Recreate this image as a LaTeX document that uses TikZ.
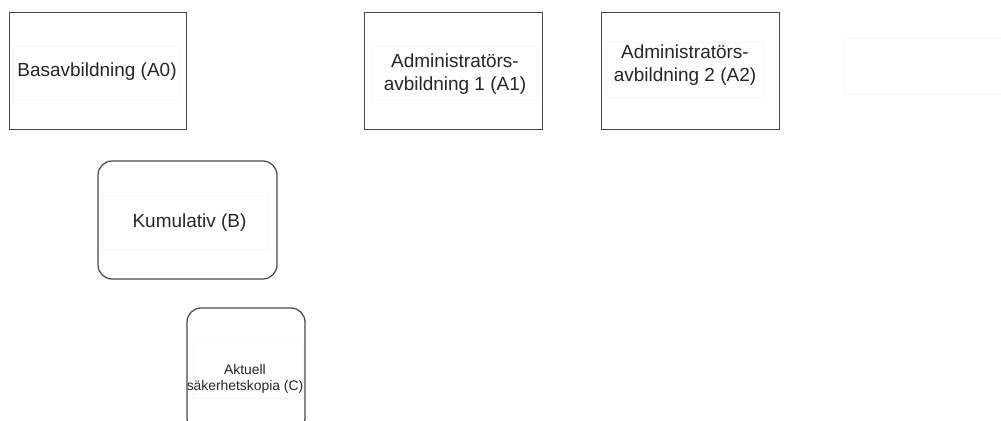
\documentclass[tikz,border=0pt]{standalone}
\usepackage{fontspec}
\setmainfont{Liberation Sans}
\usetikzlibrary{positioning}

\begin{document}
\begin{tikzpicture}[
  x=0.02cm, y=-0.02cm,
  every node/.style={font=\fontsize{10.8}{12.9}\selectfont, inner sep=0pt},
  img/.style={draw=black!72, line width=0.7pt, minimum width=3.55cm,
              minimum height=2.35cm},
  incr/.style={img, rounded corners=8pt},
  frame/.style={draw=black!3, line width=0.5pt, minimum width=3.32cm,
                minimum height=1.1cm},
  txt/.style={align=center, text=black!85},
  small/.style={font=\fontsize{7.9}{9.1}\selectfont},
]
\useasboundingbox (0,0) rectangle (1001,421);
\clip (0,0) rectangle (1001,421);

% ---- base and admin images -----------------------------------------
\node[img] (a0box) at (98,71)    {};
\node[img] (a1box) at (453.5,71) {};
\node[img] (a2box) at (690.5,71) {};

\node[frame] (a0frame) at (96,73)      {};
\node[frame] (a1frame) at (453.5,72.5) {};
\node[frame, minimum width=3.12cm] (a2frame) at (685,69.5) {};
\node[frame] (spare) at (927,65.5)     {};

\node[txt] (a0) at (97,72)  {Basavbildning (A0)};
\node[txt] (a1) at (455,74) {Administratörs-\\avbildning 1 (A1)};
\node[txt] (a2) at (685,65) {Administratörs-\\avbildning 2 (A2)};

% ---- cumulative and current backup -----------------------------------
\node[incr, minimum width=3.58cm, minimum height=2.36cm] (bbox) at (187.5,220) {};
\node[incr, minimum width=2.36cm, minimum height=2.48cm] (cbox) at (246,370) {};

\node[frame] (bframe) at (185,222.5) {};
\node[frame, minimum width=2.2cm] (cframe) at (248,370.5) {};

\node[txt] (b) at (189.5,222.5) {Kumulativ (B)};
\node[txt, small] (c) at (245,379) {Aktuell\\säkerhetskopia (C)};

\end{tikzpicture}
\end{document}
